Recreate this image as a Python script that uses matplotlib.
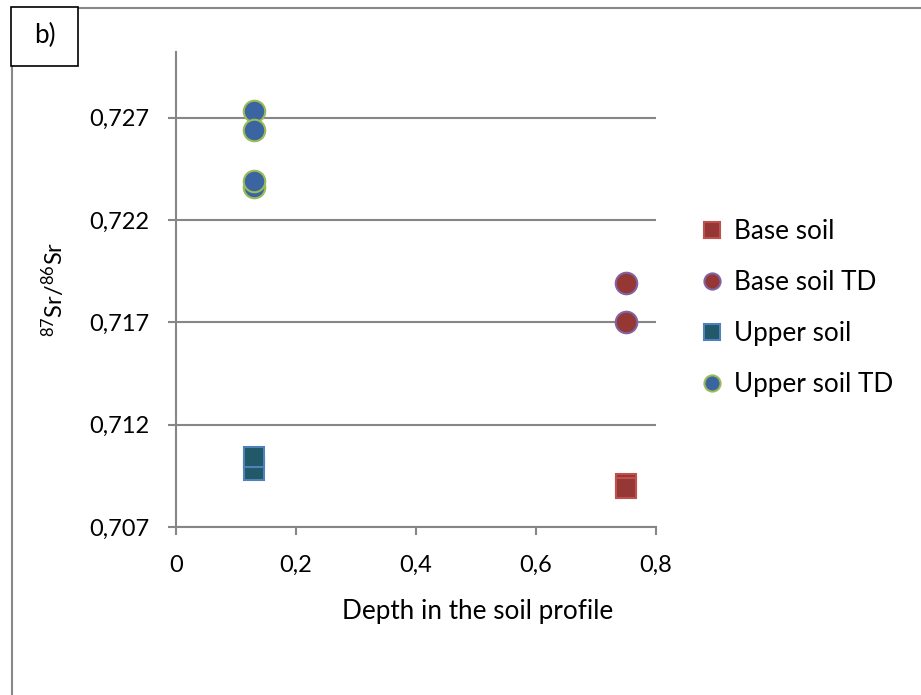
import matplotlib
matplotlib.use('Agg')
import matplotlib.pyplot as plt
from matplotlib.lines import Line2D
from matplotlib.patches import Rectangle
from matplotlib.ticker import FuncFormatter

plt.rcParams['font.family'] = ['Lato', 'DejaVu Sans']
plt.rcParams['mathtext.default'] = 'regular'

# depth (m) and 87Sr/86Sr ratios
base_depth = [0.75, 0.75]
base_soil = [0.7091, 0.7089]
base_td_depth = [0.75, 0.75]
base_soil_td = [0.7189, 0.7170]
upper_depth = [0.13, 0.13]
upper_soil = [0.7098, 0.7104]
upper_td_depth = [0.13, 0.13, 0.13, 0.13]
upper_soil_td = [0.7273, 0.7264, 0.7236, 0.7239]

x_ticks = [0, 0.2, 0.4, 0.6, 0.8]
y_ticks = [0.707, 0.712, 0.717, 0.722, 0.727]

fig = plt.figure(figsize=(9.21, 6.95), dpi=100)
ax = fig.add_axes([0.1911, 0.2417, 0.5212, 0.6835])

grid_col = '#868686'
fs = 17
fs_big = 18.8
ms = 15.5
ax.plot(base_depth, base_soil, 's', ms=ms * 0.95, mfc='#953735', mec='#C0504D', mew=1.5,
        label='Base soil', zorder=3)
ax.plot(base_td_depth, base_soil_td, 'o', ms=ms, mfc='#953735', mec='#8064A2', mew=1.5,
        label='Base soil TD', zorder=3)
ax.plot(upper_depth, upper_soil, 's', ms=ms * 0.95, mfc='#215968', mec='#4F81BD', mew=1.5,
        label='Upper soil', zorder=3)
ax.plot(upper_td_depth, upper_soil_td, 'o', ms=ms, mfc='#3A65A0', mec='#9BBB59', mew=1.5,
        label='Upper soil TD', zorder=3)

ax.set_xlim(0, 0.8)
ax.set_ylim(0.707, 0.7302)
ax.set_xticks(x_ticks)
ax.set_yticks(y_ticks)
ax.xaxis.set_major_formatter(FuncFormatter(lambda v, p: f'{v:g}'.replace('.', ',')))
ax.yaxis.set_major_formatter(FuncFormatter(lambda v, p: f'{v:.3f}'.replace('.', ',')))

ax.grid(axis='y', color=grid_col, linewidth=1.5)
ax.set_axisbelow(True)
for side in ['top', 'right']:
    ax.spines[side].set_visible(False)
for side in ['left', 'bottom']:
    ax.spines[side].set_color(grid_col)
    ax.spines[side].set_linewidth(1.5)
ax.tick_params(axis='both', direction='out', length=6, width=1.5, color=grid_col,
               labelsize=fs, labelcolor='black')
ax.tick_params(axis='y', pad=13)
ax.tick_params(axis='x', pad=14)

ax.set_xlabel('Depth in the soil profile', fontsize=fs_big, labelpad=17)
ax.xaxis.label.set_x(0.629)
ax.set_ylabel(r'$^{87}$Sr/$^{86}$Sr', fontsize=fs, labelpad=16)

ax.legend(loc='upper left', bbox_to_anchor=(0.7633, 0.685), bbox_transform=fig.transFigure,
          frameon=False, fontsize=fs_big, markerscale=0.75, labelspacing=1.0,
          handlelength=0.7, handletextpad=0.5, borderpad=0, borderaxespad=0)

# outer frame (top and left edges) and the panel tag
fig.add_artist(Line2D([0.0125, 1.0], [0.9892, 0.9892], color='#888888', lw=1.5,
                      transform=fig.transFigure))
fig.add_artist(Line2D([0.0125, 0.0125], [0.0, 0.9892], color='#888888', lw=1.5,
                      transform=fig.transFigure))
fig.add_artist(Rectangle((0.0119, 0.905), 0.0727, 0.0849, transform=fig.transFigure,
                         facecolor='white', edgecolor='black', lw=1.2, zorder=5))
fig.text(0.0485, 0.949, 'b)', fontsize=fs_big, ha='center', va='center', zorder=6)

fig.savefig('out.png', dpi=100)
